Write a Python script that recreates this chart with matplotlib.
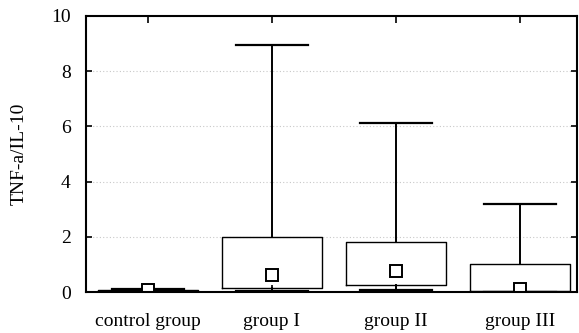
import matplotlib
matplotlib.use("Agg")
import matplotlib.pyplot as plt

# values (TNF-a/IL-10 ratio)
groups = ["control group", "group I", "group II", "group III"]
whis_lo = [0.0, 0.05, 0.07, 0.0]
q1 = [0.02, 0.15, 0.25, 0.02]
q3 = [0.08, 2.0, 1.82, 1.0]
whis_hi = [0.12, 8.95, 6.13, 3.18]
means = [0.08, 0.62, 0.77, 0.1]

plt.rcParams["font.family"] = ["Liberation Serif", "DejaVu Serif"]
plt.rcParams["font.size"] = 14

stats = []
for i, g in enumerate(groups):
    stats.append(dict(label=g, whislo=whis_lo[i], q1=q1[i], med=q1[i],
                      q3=q3[i], whishi=whis_hi[i], mean=means[i]))

fig = plt.figure(figsize=(5.79, 3.33), dpi=100)
ax = fig.add_axes([0.1485, 0.123, 0.848, 0.829])
pos = list(range(1, len(groups) + 1))
ax.bxp(stats, positions=pos, widths=0.806, capwidths=0.58,
       showmeans=True, showfliers=False, patch_artist=False,
       boxprops=dict(color="black", lw=1.0),
       whiskerprops=dict(color="black", lw=1.4),
       capprops=dict(color="black", lw=1.6),
       medianprops=dict(lw=0),
       meanprops=dict(marker="s", markersize=9, markerfacecolor="white",
                      markeredgecolor="black", markeredgewidth=1.4))

ax.set_xlim(0.5, 4.46)
ax.set_ylim(0, 10)
ax.set_yticks([0, 2, 4, 6, 8, 10])
ax.set_xticks(pos)
ax.set_xticklabels(groups)
ax.set_ylabel("TNF-a/IL-10", labelpad=17, fontsize=14)
ax.yaxis.grid(True, ls=(0, (1, 2)), color="#c8c8c8", lw=0.8)
ax.set_axisbelow(True)
ax.tick_params(direction="in", top=True, right=True, length=4, width=1.2,
               labelsize=14, pad=11)
ax.tick_params(axis="x", length=5, pad=15)
for s in ax.spines.values():
    s.set_linewidth(1.5)

fig.savefig("out.png", dpi=100, facecolor="white")
